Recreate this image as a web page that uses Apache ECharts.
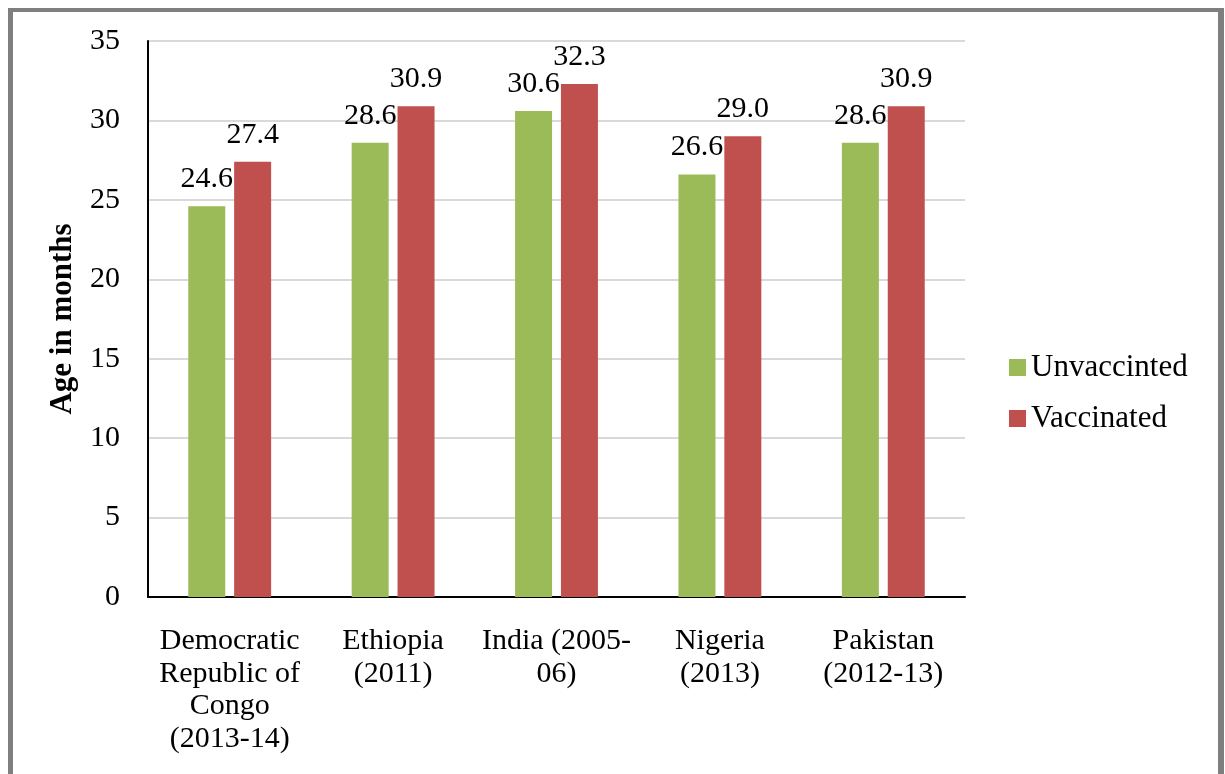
<!DOCTYPE html>
<html>
<head>
<meta charset="utf-8">
<script src="https://cdn.jsdelivr.net/npm/echarts@6/dist/echarts.min.js"></script>
<style>
  html, body { margin: 0; padding: 0; background: #fff; }
  #wrap { position: relative; width: 1225px; height: 774px; }
  #main { position: absolute; left: 0; top: 0; width: 1225px; height: 774px; }
  #frame {
    position: absolute; left: 8px; top: 8px; width: 1205px; height: 780px;
    border-left: 5px solid #7f7f7f; border-top: 4px solid #7f7f7f; border-right: 6px solid #7f7f7f;
    pointer-events: none;
  }
</style>
</head>
<body>
<div id="wrap">
  <div id="main"></div>
  <div id="frame"></div>
</div>
<script>
  const categories = ['Democratic\nRepublic of\nCongo\n(2013-14)', 'Ethiopia\n(2011)', 'India (2005-\n06)', 'Nigeria\n(2013)', 'Pakistan\n(2012-13)'];
  const unvaccinated = [24.6, 28.6, 30.6, 26.6, 28.6];
  const vaccinated = [27.4, 30.9, 32.3, 29.0, 30.9];
  const seriesNames = ['Unvaccinted', 'Vaccinated'];

  const font = 'Liberation Serif';
  const chart = echarts.init(document.getElementById('main'));

  const barLabel = {
    show: true,
    position: 'top',
    distance: 12,
    fontFamily: font,
    fontSize: 30,
    color: '#000',
    formatter: p => p.value.toFixed(1)
  };

  chart.setOption({
    animation: false,
    textStyle: { fontFamily: font },
    legend: {
      orient: 'vertical',
      left: 1004,
      top: 347,
      itemWidth: 17,
      itemHeight: 17,
      itemGap: 20,
      icon: 'rect',
      textStyle: { fontFamily: font, fontSize: 31, color: '#000' },
      data: seriesNames
    },
    grid: { left: 148, right: 260, top: 41, bottom: 177 },
    xAxis: {
      type: 'category',
      data: categories,
      axisLine: { lineStyle: { color: '#000', width: 2 } },
      axisTick: { show: false },
      axisLabel: {
        interval: 0,
        margin: 28,
        fontFamily: font,
        fontSize: 30,
        lineHeight: 32.5,
        color: '#000'
      }
    },
    yAxis: {
      type: 'value',
      min: 0,
      max: 35,
      interval: 5,
      name: 'Age in months',
      nameLocation: 'middle',
      nameGap: 70,
      nameTextStyle: { fontFamily: font, fontSize: 31, fontWeight: 'bold', color: '#000' },
      axisLine: { show: true, lineStyle: { color: '#000', width: 2 } },
      axisTick: { show: false },
      axisLabel: { margin: 28, fontFamily: font, fontSize: 30, color: '#000' },
      splitLine: { lineStyle: { color: '#d9d9d9', width: 2 } }
    },
    series: [
      {
        name: seriesNames[0],
        type: 'bar',
        data: unvaccinated,
        barWidth: 37,
        barGap: '24%',
        itemStyle: { color: '#9bbb59' },
        label: barLabel
      },
      {
        name: seriesNames[1],
        type: 'bar',
        data: vaccinated,
        barWidth: 37,
        barGap: '24%',
        itemStyle: { color: '#c0504d' },
        label: barLabel
      }
    ]
  });
</script>
</body>
</html>
